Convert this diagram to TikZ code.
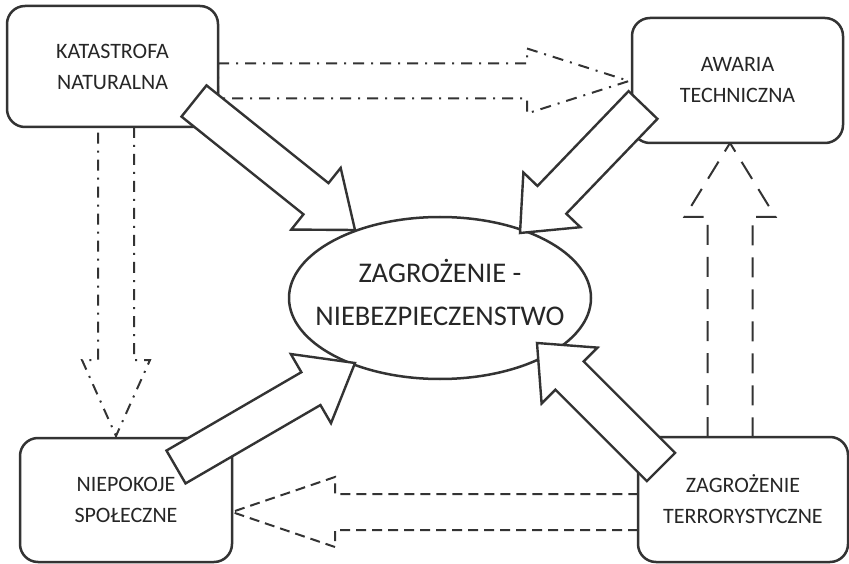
\documentclass[tikz,border=0pt]{standalone}
\usepackage{fontspec}
\setmainfont{Carlito}
\usetikzlibrary{calc,shapes.geometric}

% outline arrow: style, tail, tip, shaft half width, head half width, head length
\newcommand\outlinearrow[6]{%
  \coordinate (hb) at ($(#3)!#6pt!(#2)$);
  \draw[#1] ($(#2)!#4pt!90:(#3)$) -- ($(hb)!#4pt!-90:(#2)$) -- ($(hb)!#5pt!-90:(#2)$) -- (#3)
    -- ($(hb)!#5pt!90:(#2)$) -- ($(hb)!#4pt!90:(#2)$) -- ($(#2)!#4pt!-90:(#3)$) -- cycle;}

\tikzset{
  box/.style={draw=black!80, line width=2.5pt, rounded corners=18pt, fill=white,
    align=center, text=black!85, inner sep=0pt, font=\fontsize{22pt}{31pt}\selectfont},
  threat/.style={draw=black!80, line width=2.5pt, ellipse, fill=white, inner sep=0pt,
    align=center, text=black!85, font=\fontsize{28.5pt}{43pt}\selectfont},
  blockarrow/.style={draw=black!80, line width=2.4pt, fill=white, line join=miter},
  dashdotline/.style={draw=black!80, line width=2pt, line join=miter,
    dash pattern=on 11pt off 7pt on 2pt off 7pt},
  dashline/.style={draw=black!80, line width=2pt, line join=miter, dash pattern=on 10pt off 6pt},
  longdashline/.style={draw=black!80, line width=2pt, line join=miter, dash pattern=on 20pt off 12pt}
}

\begin{document}
\begin{tikzpicture}[x=1pt, y=-1pt]
  \useasboundingbox (0,0) rectangle (849,564);

  % ends of the open arrows
  \coordinate (e1) at (218,81);  \coordinate (e2) at (629,81);
  \coordinate (f1) at (116,127); \coordinate (f2) at (116,436);
  \coordinate (g1) at (730,437); \coordinate (g2) at (730,143);
  \coordinate (h1) at (638,512); \coordinate (h2) at (232,512);

  \outlinearrow{dashdotline}{e1}{e2}{17.5}{32.5}{102}
  \outlinearrow{dashdotline}{f1}{f2}{18}{34}{76}
  \outlinearrow{longdashline}{g1}{g2}{22.5}{45.5}{74}
  \outlinearrow{dashline}{h1}{h2}{18}{35}{103}

  \node[box, minimum width=211pt, minimum height=121pt] (kat) at (112.5,66.5) {KATASTROFA\\NATURALNA};
  \node[box, minimum width=211pt, minimum height=125pt] (awa) at (737.5,80.5) {AWARIA\\TECHNICZNA};
  \node[box, minimum width=212pt, minimum height=124pt] (nie) at (126,500) {NIEPOKOJE\\SPOŁECZNE};
  \node[box, minimum width=210pt, minimum height=125pt] (ter) at (743,499.5) {ZAGROŻENIE\\TERRORYSTYCZNE};

  \node[threat, minimum width=302pt, minimum height=162pt, text depth=12pt] (zag) at (440,298)
    {\makebox[0pt]{ZAGROŻENIE -}\\\makebox[0pt]{NIEBEZPIECZENSTWO}};

  % big arrows into the ellipse
  \coordinate (a1) at (194,101); \coordinate (a2) at (355,230);
  \coordinate (b1) at (643,105); \coordinate (b2) at (520,233);
  \coordinate (c1) at (176,467); \coordinate (c2) at (355,363);
  \coordinate (d1) at (661,467); \coordinate (d2) at (537,343);

  \outlinearrow{blockarrow}{a1}{a2}{20}{39.5}{50}
  \outlinearrow{blockarrow}{b1}{b2}{20}{39.5}{46}
  \outlinearrow{blockarrow}{c1}{c2}{19}{40}{51}
  \outlinearrow{blockarrow}{d1}{d2}{20}{39.5}{46}
\end{tikzpicture}
\end{document}
